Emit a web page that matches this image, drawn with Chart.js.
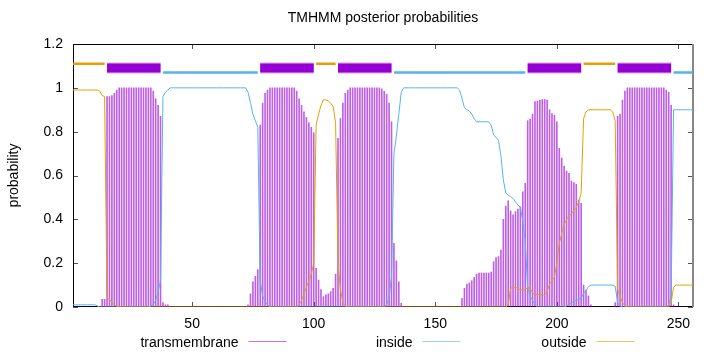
<!DOCTYPE html>
<html>
<head>
<meta charset="utf-8">
<title>TMHMM posterior probabilities</title>
<script src="https://cdn.jsdelivr.net/npm/chart.js@4.4.1/dist/chart.umd.min.js"></script>
<style>
  html, body { margin: 0; padding: 0; background: #fff; }
</style>
</head>
<body>
<canvas id="grafica" width="720" height="352"></canvas>
<script>
// probabilidades por residuo (residuo 1 = primer valor)
const transmembrana = [
  0,0,0,0,0,0,0,0,0,0,
  0,0,0.035,0.035,0.96,0.96,0.965,0.975,0.99,1,
  1,1,1,1,1,1,1,1,1,1,
  1,1,1,0.985,0.95,0.92,0.87,0.02,0.01,0.01,
  0,0,0,0,0,0,0,0,0,0,
  0,0,0,0,0,0,0,0,0,0,
  0,0,0,0,0,0,0,0,0,0,
  0,0,0.01,0.06,0.115,0.14,0.17,0.83,0.93,0.975,
  0.99,1,1,1,1,1,1,1,1,1,
  1,1,0.985,0.95,0.92,0.89,0.865,0.84,0.82,0.795,
  0.176,0.123,0.08,0.047,0.055,0.06,0.07,0.085,0.15,0.77,
  0.86,0.93,0.975,0.99,1,1,1,1,1,1,
  1,1,1,1,1,1,1,0.995,0.985,0.97,
  0.93,0.845,0.29,0.21,0.115,0.017,0,0,0,0,
  0,0,0,0,0,0,0,0,0,0,
  0,0,0,0,0,0,0,0,0,0,
  0.04,0.085,0.105,0.11,0.12,0.135,0.15,0.155,0.155,0.155,
  0.155,0.155,0.16,0.207,0.225,0.23,0.26,0.4,0.46,0.485,
  0.438,0.42,0.435,0.447,0.457,0.526,0.564,0.85,0.858,0.88,
  0.937,0.94,0.944,0.947,0.947,0.944,0.9,0.883,0.875,0.845,
  0.724,0.68,0.643,0.62,0.61,0.575,0.568,0.56,0.488,0.473,
  0.1,0.077,0.05,0.01,0,0,0,0,0,0,
  0,0,0,0.02,0.87,0.88,0.944,0.985,1,1,
  1,1,1,1,1,1,1,1,1,1,
  1,1,1,1,0.99,0.98,0.92,0.01,0,0,
  0,0,0,0,0,0
];
const dentro = [
  0.01,0.01,0.01,0.01,0.01,0.01,0.01,0.01,0.01,0.01,
  0.005,0,0,0,0,0,0,0,0,0,
  0,0,0,0,0,0,0,0,0,0,
  0,0,0.005,0.01,0.03,0.07,0.12,0.96,0.98,0.99,
  1,1,1,1,1,1,1,1,1,1,
  1,1,1,1,1,1,1,1,1,1,
  1,1,1,1,1,1,1,1,1,1,
  1,1,0.98,0.93,0.88,0.85,0.82,0.12,0.05,0.025,
  0.01,0,0,0,0,0,0,0,0,0,
  0,0,0,0,0,0,0,0,0,0,
  0,0,0,0,0,0,0,0,0,0,
  0,0,0,0,0,0,0,0,0,0,
  0,0,0,0,0,0,0,0,0,0.01,
  0.04,0.14,0.7,0.78,0.88,0.98,1,1,1,1,
  1,1,1,1,1,1,1,1,1,1,
  1,1,1,1,1,1,1,1,1,0.99,
  0.95,0.91,0.9,0.895,0.88,0.86,0.845,0.845,0.845,0.845,
  0.845,0.845,0.83,0.785,0.775,0.76,0.69,0.58,0.52,0.51,
  0.503,0.495,0.48,0.465,0.455,0.39,0.3,0.09,0.05,0.03,
  0.01,0,0,0,0,0,0,0,0,0,
  0,0,0,0.005,0.012,0.02,0.025,0.03,0.035,0.04,
  0.062,0.075,0.093,0.1,0.1,0.1,0.1,0.1,0.1,0.1,
  0.1,0.1,0.1,0.095,0.02,0.005,0,0,0,0,
  0,0,0,0,0,0,0,0,0,0,
  0,0,0,0,0,0.01,0.05,0.9,0.9,0.9,
  0.9,0.9,0.9,0.9,0.9,0.9
];
const fuera = [
  0.99,0.99,0.99,0.99,0.99,0.99,0.99,0.99,0.99,0.99,
  0.99,0.985,0.965,0.96,0.04,0.035,0.02,0.01,0.003,0,
  0,0,0,0,0,0,0,0,0,0,
  0,0,0,0,0,0,0,0,0,0,
  0,0,0,0,0,0,0,0,0,0,
  0,0,0,0,0,0,0,0,0,0,
  0,0,0,0,0,0,0,0,0,0,
  0,0,0,0,0,0,0,0,0,0,
  0,0,0,0,0,0,0,0,0,0,
  0,0,0,0.01,0.03,0.06,0.09,0.12,0.15,0.2,
  0.83,0.88,0.92,0.945,0.945,0.94,0.93,0.915,0.84,0.2,
  0.08,0.02,0.005,0,0,0,0,0,0,0,
  0,0,0,0,0,0,0,0,0,0,
  0,0,0,0,0,0,0,0,0,0,
  0,0,0,0,0,0,0,0,0,0,
  0,0,0,0,0,0,0,0,0,0,
  0,0,0,0,0,0,0,0,0,0,
  0,0,0,0,0,0,0,0,0,0.01,
  0.085,0.09,0.09,0.085,0.078,0.078,0.08,0.09,0.085,0.065,
  0.057,0.057,0.055,0.055,0.055,0.07,0.105,0.12,0.135,0.2,
  0.29,0.335,0.375,0.4,0.415,0.425,0.44,0.455,0.48,0.52,
  0.86,0.89,0.9,0.9,0.9,0.9,0.9,0.9,0.9,0.9,
  0.9,0.9,0.89,0.85,0.08,0.05,0.02,0.005,0,0,
  0,0,0,0,0,0,0,0,0,0,
  0,0,0,0,0,0,0.02,0.09,0.1,0.1,
  0.1,0.1,0.1,0.1,0.1,0.1
];

// topologia predicha [inicio, fin]
const segFuera = [[1, 14], [101, 109], [211, 224]];
const segTM = [[15, 37], [78, 100], [110, 132], [188, 210], [225, 247]];
const segDentro = [[38, 77], [133, 187], [248, 256]];

const ticksX = [50, 100, 150, 200, 250];
const ticksY = [0, 0.2, 0.4, 0.6, 0.8, 1, 1.2];

const MORADO = '#9400d3';
const AZUL = '#56b4e9';
const NARANJA = '#e69f00';
const FUENTE = '"Liberation Sans", Arial, Helvetica, sans-serif';

const puntos = arr => arr.map((v, i) => ({ x: i + 1, y: v }));

function barraTopologia(segs, nivel) {
  const pts = [];
  segs.forEach(([a, b]) => {
    pts.push({ x: a, y: nivel }, { x: b, y: nivel }, { x: b, y: null });
  });
  return pts;
}

// marco y ticks hacia dentro, estilo gnuplot
const marco = {
  id: 'marco',
  beforeDatasetsDraw(chart) {
    const { ctx, chartArea: a, scales: { x, y } } = chart;
    ctx.save();
    ctx.lineWidth = 1;
    ctx.strokeStyle = '#555';
    ctx.beginPath();
    x.ticks.forEach(t => {
      const px = Math.round(x.getPixelForValue(t.value)) + 0.5;
      ctx.moveTo(px, a.bottom); ctx.lineTo(px, a.bottom - 5);
      ctx.moveTo(px, a.top); ctx.lineTo(px, a.top + 5);
    });
    y.ticks.forEach(t => {
      const py = Math.round(y.getPixelForValue(t.value)) + 0.5;
      ctx.moveTo(a.left, py); ctx.lineTo(a.left + 5, py);
      ctx.moveTo(a.right, py); ctx.lineTo(a.right - 5, py);
    });
    ctx.stroke();
    ctx.strokeStyle = '#000';
    ctx.beginPath();
    ctx.moveTo(a.left + 0.5, a.bottom - 0.5);
    ctx.lineTo(a.left + 0.5, a.top + 0.5);
    ctx.lineTo(a.right - 0.5, a.top + 0.5);
    ctx.moveTo(a.left, a.bottom - 0.5);
    ctx.lineTo(a.right, a.bottom - 0.5);
    ctx.stroke();
    ctx.strokeStyle = '#888';
    ctx.lineWidth = 2;
    ctx.beginPath();
    ctx.moveTo(a.right, a.top);
    ctx.lineTo(a.right, a.bottom);
    ctx.stroke();
    ctx.restore();
  }
};

// leyenda abajo: texto a la derecha y muestra de linea despues
const leyenda = {
  id: 'leyenda',
  afterDraw(chart) {
    const ctx = chart.ctx;
    const items = chart.data.datasets.filter(d => d.colorLeyenda);
    ctx.save();
    ctx.font = '14px ' + FUENTE;
    ctx.textAlign = 'right';
    ctx.textBaseline = 'alphabetic';
    items.forEach((d, i) => {
      const xr = 238.5 + i * 174;
      ctx.fillStyle = '#000';
      ctx.fillText(d.label, xr, 346.5);
      ctx.strokeStyle = d.colorLeyenda;
      ctx.lineWidth = 1;
      ctx.beginPath();
      ctx.moveTo(xr + 10, 341.5);
      ctx.lineTo(xr + 48, 341.5);
      ctx.stroke();
    });
    ctx.restore();
  }
};

Chart.defaults.font.family = FUENTE;
Chart.defaults.font.size = 14;
Chart.defaults.color = '#000';

const ctx = document.getElementById('grafica').getContext('2d');
new Chart(ctx, {
  data: {
    datasets: [
      {
        type: 'line', label: 'fuera-top', data: barraTopologia(segFuera, 1.11),
        borderColor: NARANJA, borderWidth: 2.5, pointRadius: 0, order: 0
      },
      {
        type: 'line', label: 'tm-top', data: barraTopologia(segTM, 1.09),
        borderColor: MORADO, borderWidth: 9, pointRadius: 0, order: -1
      },
      {
        type: 'line', label: 'tm-top-borde', data: barraTopologia(segTM, 1.09),
        borderColor: '#dcaaf0', borderWidth: 11, pointRadius: 0, order: 0
      },
      {
        type: 'line', label: 'dentro-top', data: barraTopologia(segDentro, 1.07),
        borderColor: AZUL, borderWidth: 2.5, pointRadius: 0, order: 0
      },
      {
        type: 'bar', label: 'transmembrane', data: puntos(transmembrana),
        backgroundColor: 'rgba(148,0,211,0.62)', barThickness: 1,
        colorLeyenda: 'rgba(148,0,211,0.55)', order: 3
      },
      {
        type: 'line', label: 'inside', data: puntos(dentro),
        borderColor: AZUL, borderWidth: 1, pointRadius: 0, tension: 0,
        colorLeyenda: 'rgba(86,180,233,0.6)', order: 2
      },
      {
        type: 'line', label: 'outside', data: puntos(fuera),
        borderColor: NARANJA, borderWidth: 1, pointRadius: 0, tension: 0,
        colorLeyenda: 'rgba(230,159,0,0.6)', order: 1
      }
    ]
  },
  options: {
    responsive: false,
    animation: false,
    layout: { padding: { left: 0, right: 27, top: 0, bottom: 0 } },
    plugins: {
      legend: { display: false },
      tooltip: { enabled: false },
      title: {
        display: true,
        text: 'TMHMM posterior probabilities',
        fullSize: false,
        font: { size: 14, weight: 'normal' },
        padding: { top: 10, bottom: 17.2 }
      }
    },
    scales: {
      x: {
        type: 'linear',
        min: 1,
        max: 256,
        offset: false,
        grid: { display: false, drawTicks: false },
        border: { display: false },
        afterBuildTicks: s => { s.ticks = ticksX.map(v => ({ value: v })); },
        afterFit: s => { s.height = 45; },
        ticks: { padding: 9, maxRotation: 0, autoSkip: false }
      },
      y: {
        min: 0,
        max: 1.2,
        grid: { display: false, drawTicks: false },
        border: { display: false },
        afterBuildTicks: s => { s.ticks = ticksY.map(v => ({ value: v })); },
        afterFit: s => { s.width = 73; },
        ticks: { padding: 10, callback: v => String(+v.toFixed(1)) },
        title: { display: true, text: 'probability', padding: { top: 6, bottom: 0 } }
      }
    }
  },
  plugins: [marco, leyenda]
});
</script>
</body>
</html>
